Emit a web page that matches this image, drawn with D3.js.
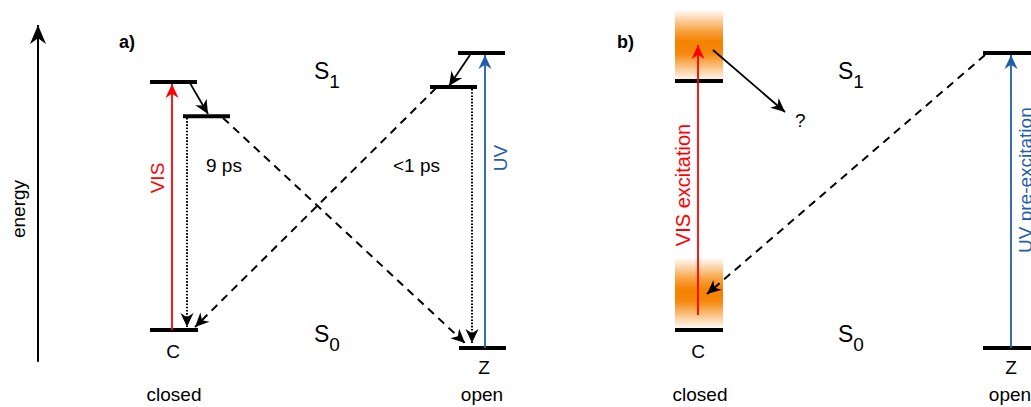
<!DOCTYPE html>
<meta charset="utf-8">
<style>
body { margin: 0; background: #fff; }
text { font-family: "Liberation Sans", Arial, sans-serif; fill: #000; }
.level { stroke: #000; stroke-width: 4; }
</style>
<body>
<script src="https://d3js.org/d3.v7.min.js"></script>
<script>

// energy levels: x extent (horizontal position) and energy (arbitrary units, Z S0 = 0)
var levels = [
  {x0: 150, x1: 197, e: 9.02},   // a) C S1 (Franck-Condon)
  {x0: 183, x1: 230, e: 7.86},   // a) C S1 relaxed
  {x0: 150, x1: 198, e: 0.61},   // a) C S0
  {x0: 458, x1: 505, e: 10.0},   // a) Z S1 (Franck-Condon)
  {x0: 430, x1: 477, e: 8.85},   // a) Z S1 relaxed
  {x0: 459, x1: 506, e: 0.0},    // a) Z S0
  {x0: 675, x1: 723, e: 9.05},   // b) C S1
  {x0: 675, x1: 723, e: 0.61},   // b) C S0
  {x0: 983, x1: 1040, e: 10.0},  // b) Z S1
  {x0: 983, x1: 1040, e: 0.0}    // b) Z S0
];

// excited populations (orange bands) in panel b
var populations = [
  {x0: 675, x1: 723, e0: 9.08, e1: 11.46},
  {x0: 675, x1: 723, e0: 0.68, e1: 3.05}
];

// transitions: start (x, e) -> end (x, e)
var transitions = [
  {kind: "axis",   x0: 38,  e0: -0.47, x1: 38,  e1: 10.95},
  {kind: "vis",    x0: 172, e0: 0.61,  x1: 172, e1: 8.95},
  {kind: "uv",     x0: 485, e0: 0.0,   x1: 485, e1: 9.93},
  {kind: "relax",  x0: 190, e0: 8.98,  x1: 208, e1: 7.93},
  {kind: "relax",  x0: 470, e0: 9.93,  x1: 449, e1: 8.88},
  {kind: "dotted", x0: 187, e0: 7.80,  x1: 187, e1: 0.71},
  {kind: "dotted", x0: 472, e0: 8.78,  x1: 472, e1: 0.17},
  {kind: "dashed", x0: 223, e0: 7.80,  x1: 465, e1: 0.17},
  {kind: "dashed", x0: 436, e0: 8.81,  x1: 195, e1: 0.71},
  {kind: "vis",    x0: 698, e0: 1.12,  x1: 698, e1: 10.27},
  {kind: "relax",  x0: 713, e0: 10.10, x1: 785, e1: 8.0},
  {kind: "dashed", x0: 985, e0: 9.93,  x1: 707, e1: 1.83},
  {kind: "uv",     x0: 1011, e0: 0.0,  x1: 1011, e1: 9.93}
];

var panelLabels = ["a)", "b)"];
var stateLabels = ["C", "Z", "C", "Z"];
var isomerLabels = ["closed", "open", "closed", "open"];
var timeLabels = ["9 ps", "<1 ps"];
var excitationLabels = ["VIS", "UV", "VIS excitation", "UV pre-excitation"];

var width = 1031, height = 407;
var red = "#ff0000", blue = "#1f5ea8", orange = "#f58200";
var fs = 19;

var x = d3.scaleLinear().domain([0, width]).range([0, width]);
var y = d3.scaleLinear().domain([0, 10]).range([348, 53]);

var svg = d3.select("body").append("svg")
    .attr("width", width)
    .attr("height", height);

var defs = svg.append("defs");

// arrowheads
function marker(id, color, len, half) {
  defs.append("marker")
      .attr("id", id)
      .attr("markerUnits", "userSpaceOnUse")
      .attr("viewBox", [-1, -half - 1, len + 2, 2 * half + 2].join(" "))
      .attr("refX", len)
      .attr("refY", 0)
      .attr("markerWidth", len + 2)
      .attr("markerHeight", 2 * half + 2)
      .attr("orient", "auto")
    .append("path")
      .attr("d", "M0," + (-half) + "L" + len + ",0L0," + half + "L" + (len * 0.3) + ",0Z")
      .attr("fill", color);
}
marker("head-black", "#000", 14, 6.5);
marker("head-red", red, 14, 6.5);
marker("head-blue", blue, 14, 6.5);
marker("head-axis", "#000", 19, 8);

var grad = defs.append("linearGradient")
    .attr("id", "pop")
    .attr("x1", 0).attr("y1", 0).attr("x2", 0).attr("y2", 1);
[[0, 0.02], [0.3, 0.75], [0.45, 1], [0.62, 0.95], [0.85, 0.4], [1, 0.05]].forEach(function(s) {
  grad.append("stop")
      .attr("offset", s[0])
      .attr("stop-color", orange)
      .attr("stop-opacity", s[1]);
});

svg.selectAll(".pop")
    .data(populations)
  .enter().append("rect")
    .attr("class", "pop")
    .attr("x", function(d) { return x(d.x0); })
    .attr("width", function(d) { return x(d.x1) - x(d.x0); })
    .attr("y", function(d) { return y(d.e1); })
    .attr("height", function(d) { return y(d.e0) - y(d.e1); })
    .attr("fill", "url(#pop)");

svg.selectAll(".level")
    .data(levels)
  .enter().append("line")
    .attr("class", "level")
    .attr("x1", function(d) { return x(d.x0); })
    .attr("x2", function(d) { return x(d.x1); })
    .attr("y1", function(d) { return y(d.e); })
    .attr("y2", function(d) { return y(d.e); });

var style = {
  axis:   {color: "#000", w: 2,   dash: null,  head: "head-axis"},
  vis:    {color: red,    w: 1.8, dash: null,  head: "head-red"},
  uv:     {color: blue,   w: 1.8, dash: null,  head: "head-blue"},
  relax:  {color: "#000", w: 1.8, dash: null,  head: "head-black"},
  dotted: {color: "#000", w: 2,   dash: "1.6,1.6", head: "head-black"},
  dashed: {color: "#000", w: 2,   dash: "8,6", head: "head-black"}
};

svg.selectAll(".tr")
    .data(transitions)
  .enter().append("line")
    .attr("class", "tr")
    .attr("x1", function(d) { return x(d.x0); })
    .attr("y1", function(d) { return y(d.e0); })
    .attr("x2", function(d) { return x(d.x1); })
    .attr("y2", function(d) { return y(d.e1); })
    .attr("stroke", function(d) { return style[d.kind].color; })
    .attr("stroke-width", function(d) { return style[d.kind].w; })
    .attr("stroke-dasharray", function(d) { return style[d.kind].dash; })
    .attr("marker-end", function(d) { return "url(#" + style[d.kind].head + ")"; });

// texts
function txt(s, px, py, size, opts) {
  opts = opts || {};
  var t = svg.append("text")
      .attr("x", px).attr("y", py)
      .style("font-size", size + "px")
      .attr("text-anchor", opts.anchor || "start")
      .text(s);
  if (opts.bold) t.attr("font-weight", "bold");
  if (opts.color) t.style("fill", opts.color);
  if (opts.rotate) t.attr("transform", "rotate(-90," + px + "," + py + ")");
  return t;
}

txt("energy", 25, 209, fs, {anchor: "middle", rotate: true});
txt(panelLabels[0], 119, 48, 18, {bold: true});
txt(panelLabels[1], 617, 48, 18, {bold: true});

[[173, 358], [484, 374], [698, 358], [1011, 374]].forEach(function(p, i) {
  txt(stateLabels[i], p[0], p[1], fs, {anchor: "middle"});
});
[[174, 401], [482, 401], [700, 401], [1010, 401]].forEach(function(p, i) {
  txt(isomerLabels[i], p[0], p[1], fs, {anchor: "middle"});
});

txt(timeLabels[0], 206, 172, fs);
txt(timeLabels[1], 393, 172, fs);
txt("?", 795, 127, fs);

txt(excitationLabels[0], 164, 178, fs, {anchor: "middle", rotate: true, color: red});
txt(excitationLabels[1], 507, 158, fs, {anchor: "middle", rotate: true, color: blue});
txt(excitationLabels[2], 690, 185, 20, {anchor: "middle", rotate: true, color: red});
txt(excitationLabels[3], 1032, 253, 19, {anchor: "start", rotate: true, color: blue});

// S1 / S0 state labels
[[314, 79, "1"], [314, 342, "0"], [838, 79, "1"], [838, 342, "0"]].forEach(function(p) {
  var t = svg.append("text").attr("x", p[0]).attr("y", p[1]).style("font-size", "23px");
  t.append("tspan").text("S");
  t.append("tspan").attr("dy", 9).style("font-size", "19px").text(p[2]);
});

</script>
</body>
